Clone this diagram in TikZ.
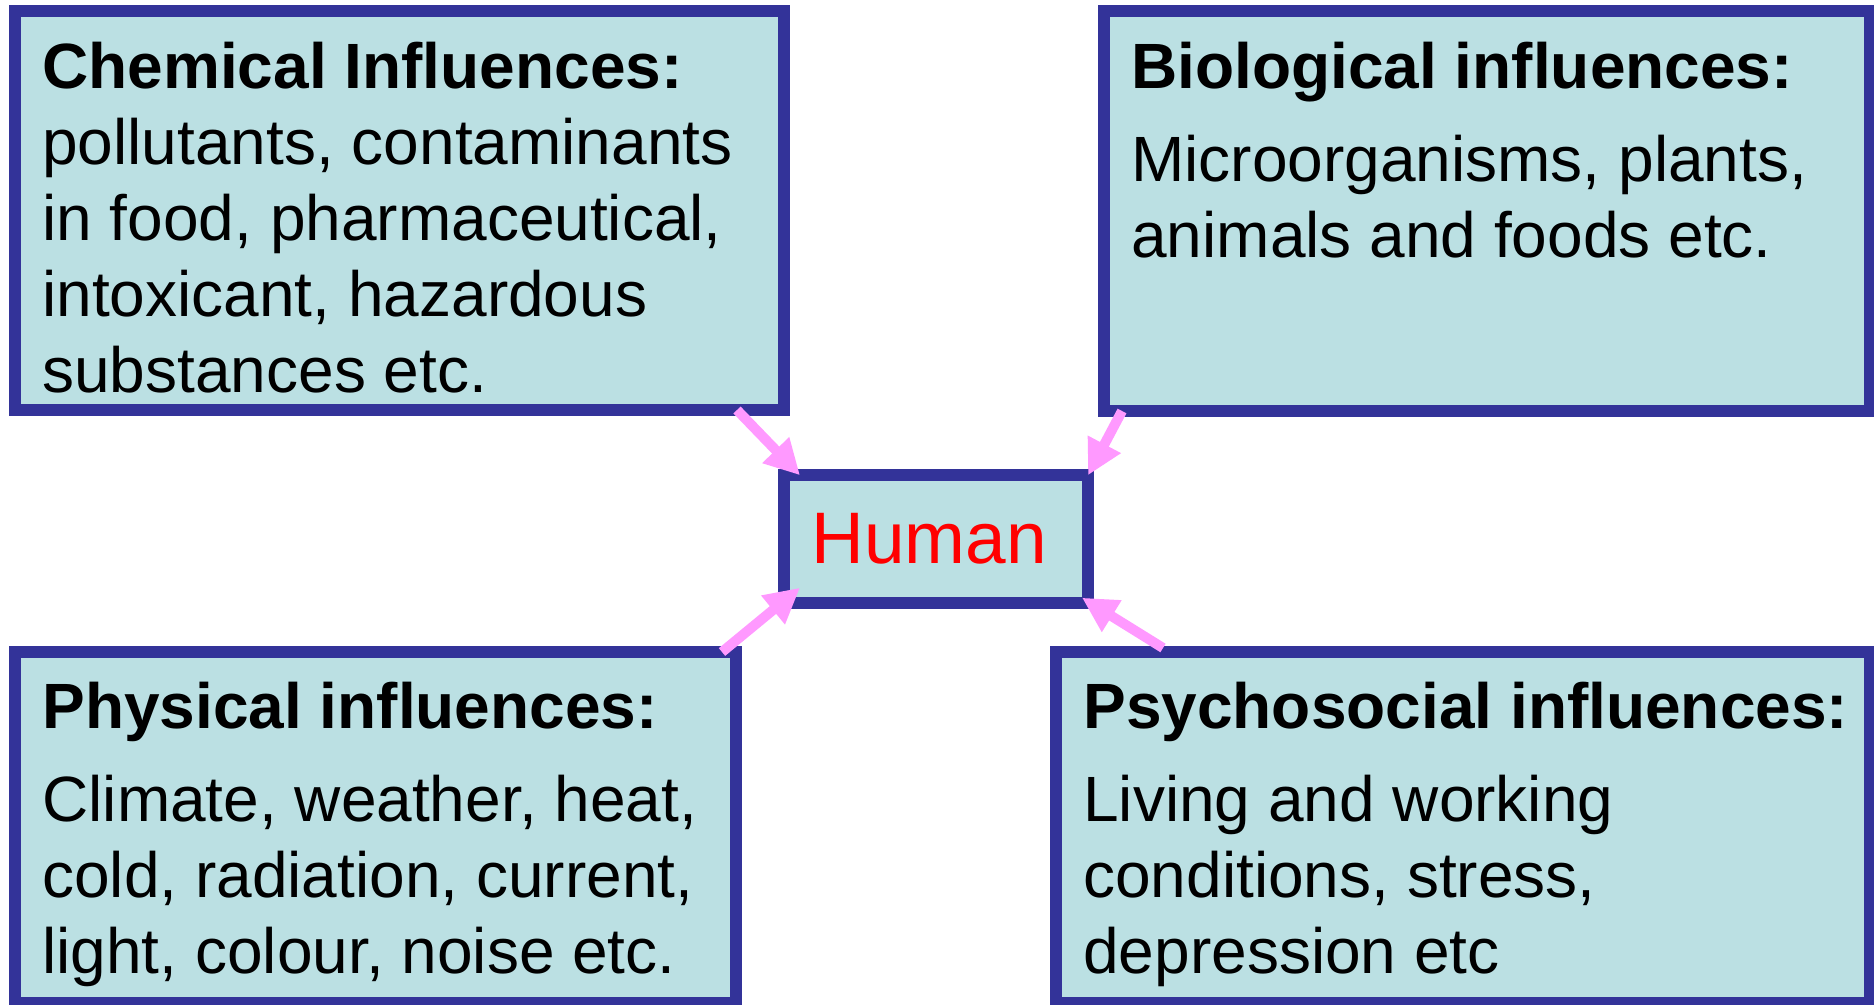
\documentclass[tikz,border=0pt]{standalone}
\usepackage{fontspec}
\setmainfont{Liberation Sans}
\usetikzlibrary{arrows.meta}

\definecolor{boxblue}{RGB}{51,51,153}
\definecolor{boxfill}{RGB}{187,224,227}
\definecolor{arrowpink}{RGB}{255,153,255}

\tikzset{
  box/.style={draw=boxblue,fill=boxfill,line width=6pt,inner sep=0pt,outer sep=0pt},
  txt/.style={anchor=base west,align=left,inner sep=0pt,font=\fontsize{32}{38}\selectfont},
  pull/.style={->,draw=arrowpink,line width=5pt}
}

\begin{document}
\begin{tikzpicture}[x=0.5pt,y=-0.5pt,>={Triangle[width=17.5pt,length=17.5pt]}]
\useasboundingbox (0,0) rectangle (1874,1005);

\node[box,anchor=north west,minimum width=384.5pt,minimum height=199.5pt] (chem) at (15,11) {};
\node[box,anchor=north west,minimum width=383pt,minimum height=200pt] (bio) at (1104,11) {};
\node[box,anchor=north west,minimum width=360.5pt,minimum height=175.5pt] (phys) at (15,652) {};
\node[box,anchor=north west,minimum width=407pt,minimum height=175.5pt] (psych) at (1056,652) {};
\node[box,minimum width=152pt,minimum height=63.75pt,text=red,font=\fontsize{36.5}{44}\selectfont] (human) at (936,539) {\hspace*{-7pt}Human};

% base of each text block = its last line
\node[txt] (chemtxt) at ([shift={(27,382)}]chem.north west) {\textbf{Chemical Influences:}\\pollutants, contaminants\\in food, pharmaceutical,\\intoxicant, hazardous\\substances etc.};
\node[txt] (biotxt) at ([shift={(27,247)}]bio.north west) {\textbf{Biological influences:}\\[8.5pt]Microorganisms, plants,\\animals and foods etc.};
\node[txt] (phystxt) at ([shift={(27,321)}]phys.north west) {\textbf{Physical influences:}\\[8.5pt]Climate, weather, heat,\\cold, radiation, current,\\light, colour, noise etc.};
\node[txt] (psychtxt) at ([shift={(27,321)}]psych.north west) {\textbf{Psychosocial influences:}\\[8.5pt]Living and working\\conditions, stress,\\depression etc};

%arrows
\path ([xshift=-23.5pt]chem.south east) edge[pull] ([xshift=8pt]human.north west);
\path ([xshift=9pt]bio.south west) edge[pull] (human.north east);
\path ([xshift=-7pt]phys.north east) edge[pull] ([shift={(16,-15)}]human.south west);
\path ([xshift=53.5pt,yshift=2pt]psych.north west) edge[pull] ([shift={(-6,-5)}]human.south east);
\end{tikzpicture}
\end{document}
